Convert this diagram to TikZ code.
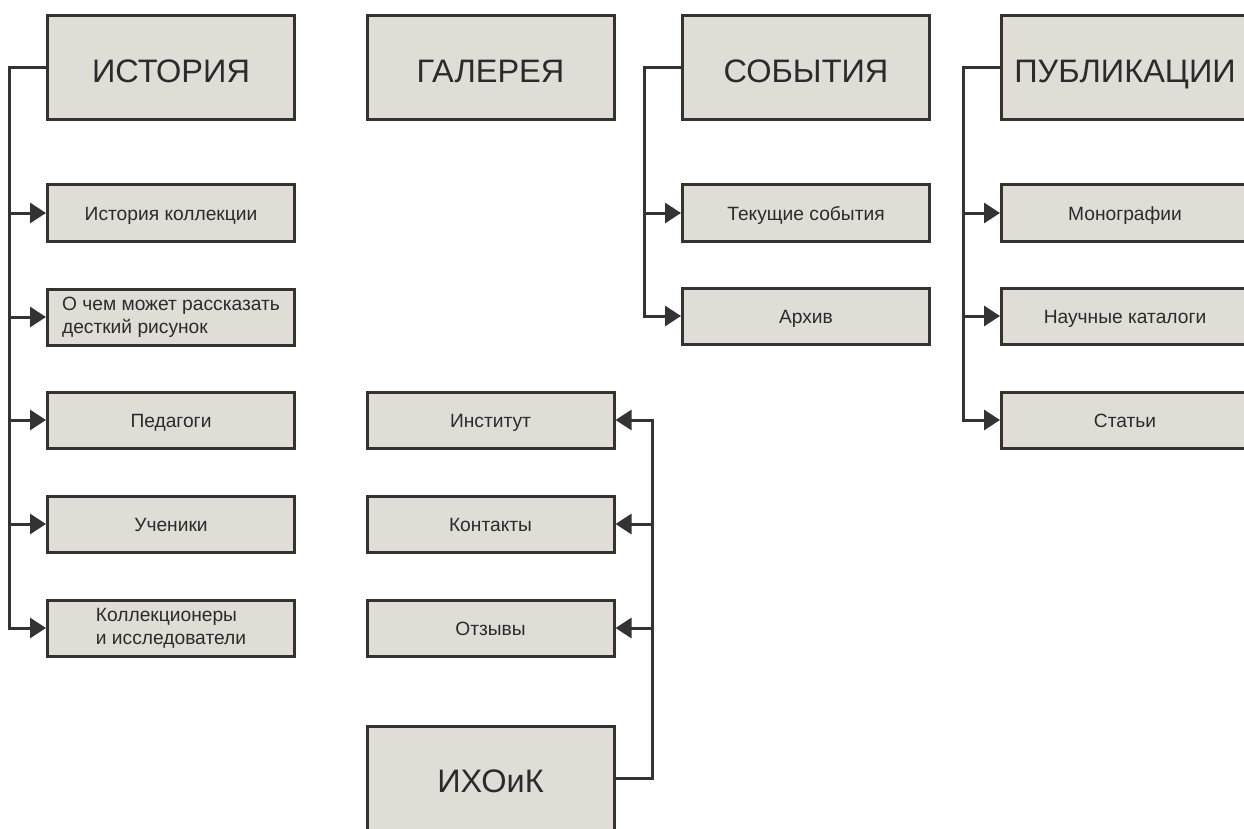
\documentclass[tikz,border=0pt]{standalone}
\usepackage{fontspec}
\setmainfont{Liberation Sans}
\usetikzlibrary{arrows.meta}
\definecolor{boxc}{HTML}{E0DDD6}
\definecolor{linec}{HTML}{333333}
\definecolor{txtc}{HTML}{2B2B2B}
\begin{document}
\begin{tikzpicture}[x=1pt,y=1pt,
  box/.style={draw=linec, fill=boxc, line width=3pt, rectangle, minimum width=247pt, inner sep=0pt, text=txtc},
  bigbox/.style={box, minimum height=104pt, font=\fontsize{32.5}{38}\selectfont, text depth=0pt, text height=0.716*32.5pt+6pt},
  smallbox/.style={box, minimum height=56pt, font=\fontsize{19.2}{23}\selectfont},
  oneline/.style={smallbox, text depth=0pt, text height=0.716*19.2pt+2pt},
  conn/.style={draw=linec, line width=3pt},
  arr/.style={conn, -{Triangle[length=16pt,width=20pt]}}
]
\useasboundingbox (0,0) rectangle (1244,-829);
\clip (0,0) rectangle (1244,-829);
% ИСТОРИЯ
\node[bigbox] (hist) at (171,-67.5) {ИСТОРИЯ};
\node[oneline] (h1) at (171,-213) {История коллекции};
\node[smallbox, align=left] (h2) at (171,-317) {О чем может рассказать\\десткий рисунок};
\node[oneline] (h3) at (171,-420) {Педагоги};
\node[oneline] (h4) at (171,-524) {Ученики};
\node[smallbox, align=left] (h5) at (171,-628) {Коллекционеры\\и исследователи};
\foreach \c in {h1,h2,h3,h4,h5}
  \draw[arr] (hist.west) -- ++(-37,0) |- (\c.west);
% ГАЛЕРЕЯ
\node[bigbox] (gal) at (490.5,-67.5) {ГАЛЕРЕЯ};
\node[oneline] (g1) at (490.5,-420) {Институт};
\node[oneline] (g2) at (490.5,-524) {Контакты};
\node[oneline] (g3) at (490.5,-628) {Отзывы};
\node[bigbox] (ihoik) at (490.5,-778) {ИХОиК};
\foreach \c in {g1,g2,g3}
  \draw[arr] (ihoik.east) -- ++(37,0) |- (\c.east);
% СОБЫТИЯ
\node[bigbox] (ev) at (806,-67.5) {СОБЫТИЯ};
\node[oneline] (e1) at (806,-213) {Текущие события};
\node[oneline] (e2) at (806,-316) {Архив};
\foreach \c in {e1,e2}
  \draw[arr] (ev.west) -- ++(-37,0) |- (\c.west);
% ПУБЛИКАЦИИ
\node[bigbox] (pub) at (1125,-67.5) {ПУБЛИКАЦИИ};
\node[oneline] (p1) at (1125,-213) {Монографии};
\node[oneline] (p2) at (1125,-316) {Научные каталоги};
\node[oneline] (p3) at (1125,-420) {Статьи};
\foreach \c in {p1,p2,p3}
  \draw[arr] (pub.west) -- ++(-37,0) |- (\c.west);
\end{tikzpicture}
\end{document}
